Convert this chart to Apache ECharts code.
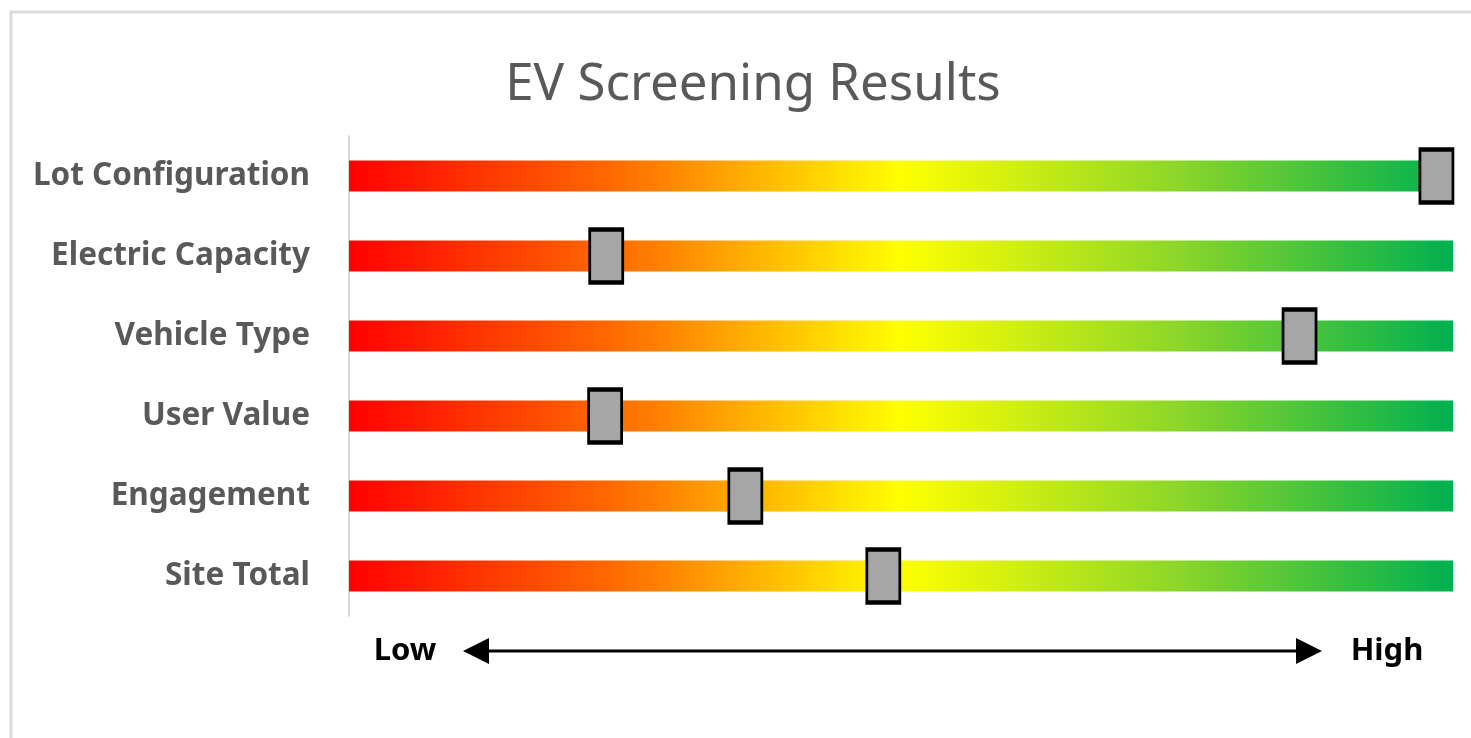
<!DOCTYPE html>
<html>
<head>
<meta charset="utf-8">
<script src="https://cdn.jsdelivr.net/npm/echarts@6/dist/echarts.min.js"></script>
<style>
  html, body { margin: 0; padding: 0; background: #fff; }
  #chart { width: 1471px; height: 738px; }
</style>
</head>
<body>
<div id="chart"></div>
<script>
// ---- data ----
const titleText = 'EV Screening Results';
const categories = ['Lot Configuration', 'Electric Capacity', 'Vehicle Type', 'User Value', 'Engagement', 'Site Total'];
const scores = [98.5, 23.3, 86.1, 23.2, 35.9, 48.4];
const scaleMin = 0;
const scaleMax = 100;
const lowLabel = 'Low';
const highLabel = 'High';

// ---- chart ----
const chart = echarts.init(document.getElementById('chart'), null, { renderer: 'canvas' });
const font = '"Noto Sans", "Open Sans", sans-serif';

const gradient = new echarts.graphic.LinearGradient(0, 0, 1, 0, [
  { offset: 0, color: '#FF0000' },
  { offset: 0.25, color: '#FF7000' },
  { offset: 0.5, color: '#FFFF00' },
  { offset: 0.75, color: '#8CD62A' },
  { offset: 1, color: '#00B050' }
]);

const option = {
  backgroundColor: '#ffffff',
  animation: false,
  title: {
    text: titleText,
    left: 748,
    textAlign: 'center',
    top: 55,
    textStyle: { fontFamily: font, fontSize: 51, fontWeight: 'normal', color: '#595959' }
  },
  grid: { left: 349, right: 18, top: 136, height: 480, containLabel: false },
  xAxis: {
    type: 'value',
    min: scaleMin,
    max: scaleMax,
    show: false
  },
  yAxis: {
    type: 'category',
    data: categories,
    inverse: true,
    offset: 2,
    axisLine: { show: true, lineStyle: { color: '#D9D9D9', width: 2 } },
    axisTick: { show: false },
    axisLabel: {
      margin: 37,
      fontFamily: font,
      fontSize: 31.5,
      fontWeight: 'bold',
      color: '#595959'
    },
    splitLine: { show: false }
  },
  series: [
    {
      type: 'bar',
      data: categories.map(() => scaleMax),
      barWidth: 31,
      itemStyle: { color: gradient },
      silent: true,
      z: 2
    },
    {
      type: 'scatter',
      data: scores.map((v, i) => [v, i]),
      symbol: 'rect',
      symbolSize: [33, 53],
      itemStyle: { color: '#A6A6A6', borderColor: '#000000', borderWidth: 3.5, opacity: 1 },
      z: 5
    }
  ],
  graphic: [
    {
      type: 'rect',
      shape: { x: 11, y: 12, width: 1500, height: 800 },
      style: { fill: 'none', stroke: '#D9D9D9', lineWidth: 3 },
      silent: true,
      z: -1
    },
    {
      type: 'line',
      shape: { x1: 480, y1: 651, x2: 1305, y2: 651 },
      style: { stroke: '#000000', lineWidth: 3 },
      z: 10
    },
    {
      type: 'polygon',
      shape: { points: [[463, 651], [489, 638], [489, 664]] },
      style: { fill: '#000000' },
      z: 10
    },
    {
      type: 'polygon',
      shape: { points: [[1322, 651], [1296, 638], [1296, 664]] },
      style: { fill: '#000000' },
      z: 10
    },
    {
      type: 'text',
      x: 405,
      y: 651,
      style: {
        text: lowLabel,
        fontFamily: font, fontSize: 31, fontWeight: 'bold', fill: '#000000',
        textAlign: 'center', textVerticalAlign: 'middle'
      },
      z: 10
    },
    {
      type: 'text',
      x: 1387,
      y: 651,
      style: {
        text: highLabel,
        fontFamily: font, fontSize: 31, fontWeight: 'bold', fill: '#000000',
        textAlign: 'center', textVerticalAlign: 'middle'
      },
      z: 10
    }
  ]
};
chart.setOption(option);
</script>
</body>
</html>
